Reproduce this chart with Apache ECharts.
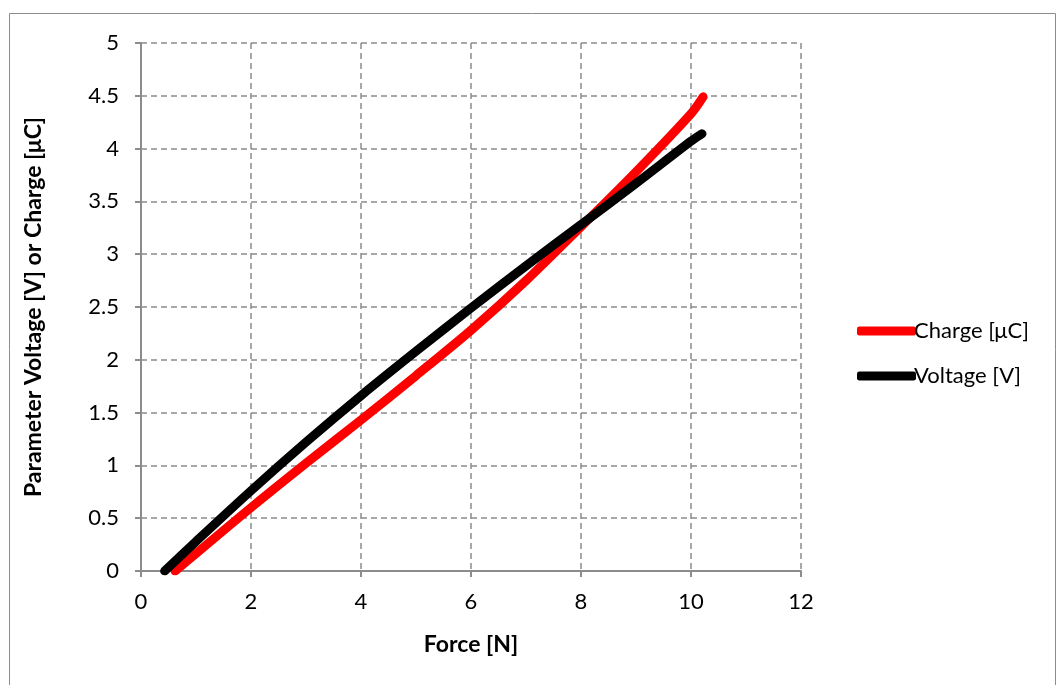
<!DOCTYPE html>
<html><head><meta charset="utf-8">
<script src="https://cdn.jsdelivr.net/npm/echarts@6/dist/echarts.min.js"></script>
<style>html,body{margin:0;padding:0;background:#fff}#c{width:1057px;height:685px}</style>
</head><body><div id="c"></div>
<script>
const xTicks = [0, 2, 4, 6, 8, 10, 12];
const yTicks = [0, 0.5, 1, 1.5, 2, 2.5, 3, 3.5, 4, 4.5, 5];
const chargeForce = [0.62, 1, 2, 3, 4, 5, 6, 7, 8, 9, 10, 10.22];
const chargeValue = [0, 0.165, 0.60, 1.02, 1.43, 1.85, 2.28, 2.75, 3.26, 3.78, 4.33, 4.49];
const voltageForce = [0.43, 1, 2, 3, 4, 5, 6, 7, 8, 9, 10, 10.2];
const voltageValue = [0, 0.28, 0.76, 1.22, 1.66, 2.08, 2.49, 2.89, 3.28, 3.67, 4.07, 4.14];

const font = 'Lato, "Open Sans", sans-serif';
const chart = echarts.init(document.getElementById('c'));
chart.setOption({
  animation: false,
  graphic: [{type: 'rect', shape: {x: 9.5, y: 13.5, width: 1046, height: 680}, style: {fill: 'none', stroke: '#8c8c8c', lineWidth: 1}}],
  grid: {left: 141, right: 256, top: 43, bottom: 114},
  legend: {
    orient: 'vertical', left: 852, top: 315, itemGap: 23,
    itemWidth: 59, itemHeight: 9, icon: 'roundRect',
    textStyle: {fontFamily: font, fontSize: 22, color: '#000', padding: [0, 0, 0, -7]},
    data: ['Charge [μC]', 'Voltage [V]']
  },
  xAxis: {
    type: 'value', min: 0, max: 12, interval: 2,
    name: 'Force [N]', nameLocation: 'middle', nameGap: 62,
    nameTextStyle: {fontFamily: font, fontSize: 23, fontWeight: 'bold', color: '#000'},
    axisLine: {show: true, lineStyle: {color: '#8c8c8c', width: 2}},
    axisTick: {show: true, length: 6, lineStyle: {color: '#8c8c8c', width: 2}},
    axisLabel: {fontFamily: font, fontSize: 22, color: '#000', margin: 20,
      formatter: v => xTicks.includes(v) ? String(v) : ''},
    splitLine: {show: true, lineStyle: {color: '#8c8c8c', type: [6, 4], width: 1.5}}
  },
  yAxis: {
    type: 'value', min: 0, max: 5, interval: 0.5,
    name: 'Parameter Voltage [V] or Charge [μC]', nameLocation: 'middle', nameGap: 96,
    nameTextStyle: {fontFamily: font, fontSize: 23, fontWeight: 'bold', color: '#000'},
    axisLine: {show: true, lineStyle: {color: '#8c8c8c', width: 2}},
    axisTick: {show: true, length: 6, lineStyle: {color: '#8c8c8c', width: 2}},
    axisLabel: {fontFamily: font, fontSize: 22, color: '#000', margin: 22,
      formatter: v => yTicks.includes(v) ? String(v) : ''},
    splitLine: {show: true, lineStyle: {color: '#8c8c8c', type: [6, 4], width: 1.5}}
  },
  series: [
    {name: 'Charge [μC]', type: 'line', smooth: 0.3, showSymbol: false, color: '#ff0000',
     lineStyle: {width: 9, cap: 'round', join: 'round'},
     data: chargeForce.map((x, i) => [x, chargeValue[i]])},
    {name: 'Voltage [V]', type: 'line', smooth: 0.3, showSymbol: false, color: '#000000',
     lineStyle: {width: 9, cap: 'round', join: 'round'},
     data: voltageForce.map((x, i) => [x, voltageValue[i]])}
  ]
});
</script></body></html>
